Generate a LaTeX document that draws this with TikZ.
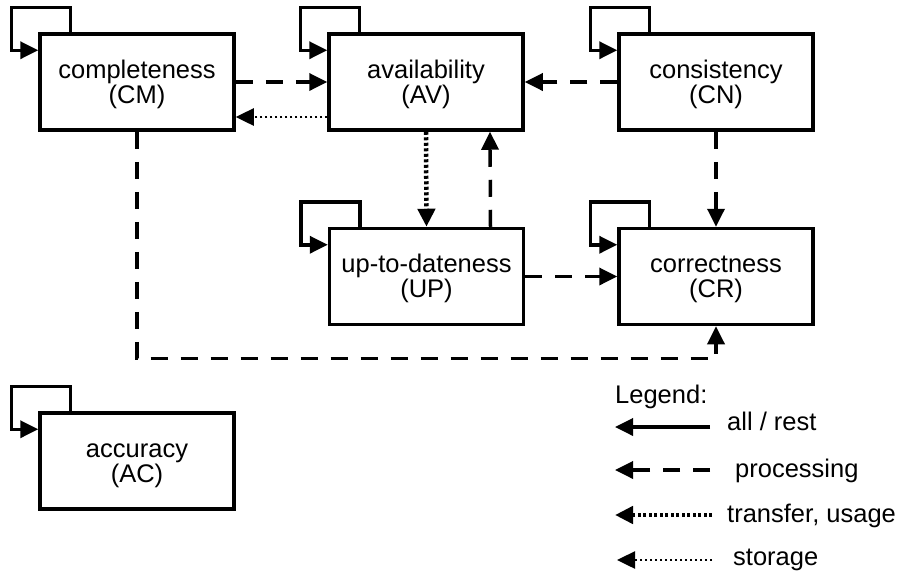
\documentclass[tikz,border=0pt]{standalone}
\usepackage{fontspec}
\setmainfont{Liberation Sans}
\usetikzlibrary{arrows.meta,calc}
% two-line box label, nudged slightly below centre
\newcommand{\boxtext}[2]{\rule{0pt}{22.5pt}#1\\#2}
\begin{document}
\begin{tikzpicture}[x=1pt,y=-1pt,
  box/.style={draw,line width=3.5pt,minimum width=194pt,minimum height=96pt,
    inner sep=0pt,align=center,font=\fontsize{25.5}{25}\selectfont},
  conn/.style={line width=3.5pt,-{Triangle[length=18pt,width=17pt]}},
  allrest/.style={conn},
  proc/.style={conn,dash pattern=on 17pt off 13pt},
  transfer/.style={conn,line width=4.5pt,dash pattern=on 3pt off 2.5pt},
  storage/.style={conn,line width=2.5pt,dash pattern=on 2pt off 3pt},
  selfloop/.style={conn},
  lbl/.style={anchor=base west,inner sep=0pt,font=\fontsize{25.5}{25.5}\selectfont}]
\useasboundingbox (0,0) rectangle (908,582);

% quality dimensions
\node[box] (CM) at (137,82) {\boxtext{completeness}{(CM)}};
\node[box] (AV) at (426,82) {\boxtext{availability}{(AV)}};
\node[box] (CN) at (716,82) {\boxtext{consistency}{(CN)}};
\node[box] (UP) at (426.5,276.5) {\boxtext{up-to-dateness}{(UP)}};
\node[box] (CR) at (716,276.5) {\boxtext{correctness}{(CR)}};
\node[box] (AC) at (137,461) {\boxtext{accuracy}{(AC)}};

% self-loops on every box
\foreach \n in {CM,AV,CN,UP,CR,AC}{
  \draw[selfloop] ([xshift=32pt]\n.north west) -- ++(0pt,25pt) -- ++(-59pt,0pt)
    |- ([yshift=-18pt]\n.north west);
}

% dependencies between the boxes
\draw[proc] (CM.east) -- (AV.west);
\draw[storage] ([yshift=-35pt]AV.west) -- ([yshift=-35pt]CM.east);
\draw[proc] (CN.west) -- (AV.east);
\draw[transfer] (AV.south) -- (UP.north);
\draw[proc] ([xshift=64pt]UP.north) -- ([xshift=64pt]AV.south);
\draw[proc] (CN.south) -- (CR.north);
\draw[proc] (UP.east |- CR.west) -- (CR.west);
\coordinate (bend) at ($(CR.south)+(0pt,-32pt)$);
\draw[proc] (CM.south) |- (bend) -- (CR.south);

% legend
\node[lbl] (leg) at (615,403) {Legend:};
\coordinate (l1a) at (615,427); \coordinate (l1b) at (710,427);
\coordinate (l2a) at (615,470); \coordinate (l2b) at (710,470);
\coordinate (l3a) at (615,515); \coordinate (l3b) at (712,515);
\coordinate (l4a) at (617,560); \coordinate (l4b) at (712,560);
\draw[allrest] (l1b) -- (l1a);
\draw[proc] (l2b) -- (l2a);
\draw[transfer] (l3b) -- (l3a);
\draw[storage] (l4b) -- (l4a);
\node[lbl] (t1) at (727,430) {all / rest};
\node[lbl] (t2) at (735,477) {processing};
\node[lbl] (t3) at (727,522) {transfer, usage};
\node[lbl] (t4) at (733,565) {storage};
\end{tikzpicture}
\end{document}
